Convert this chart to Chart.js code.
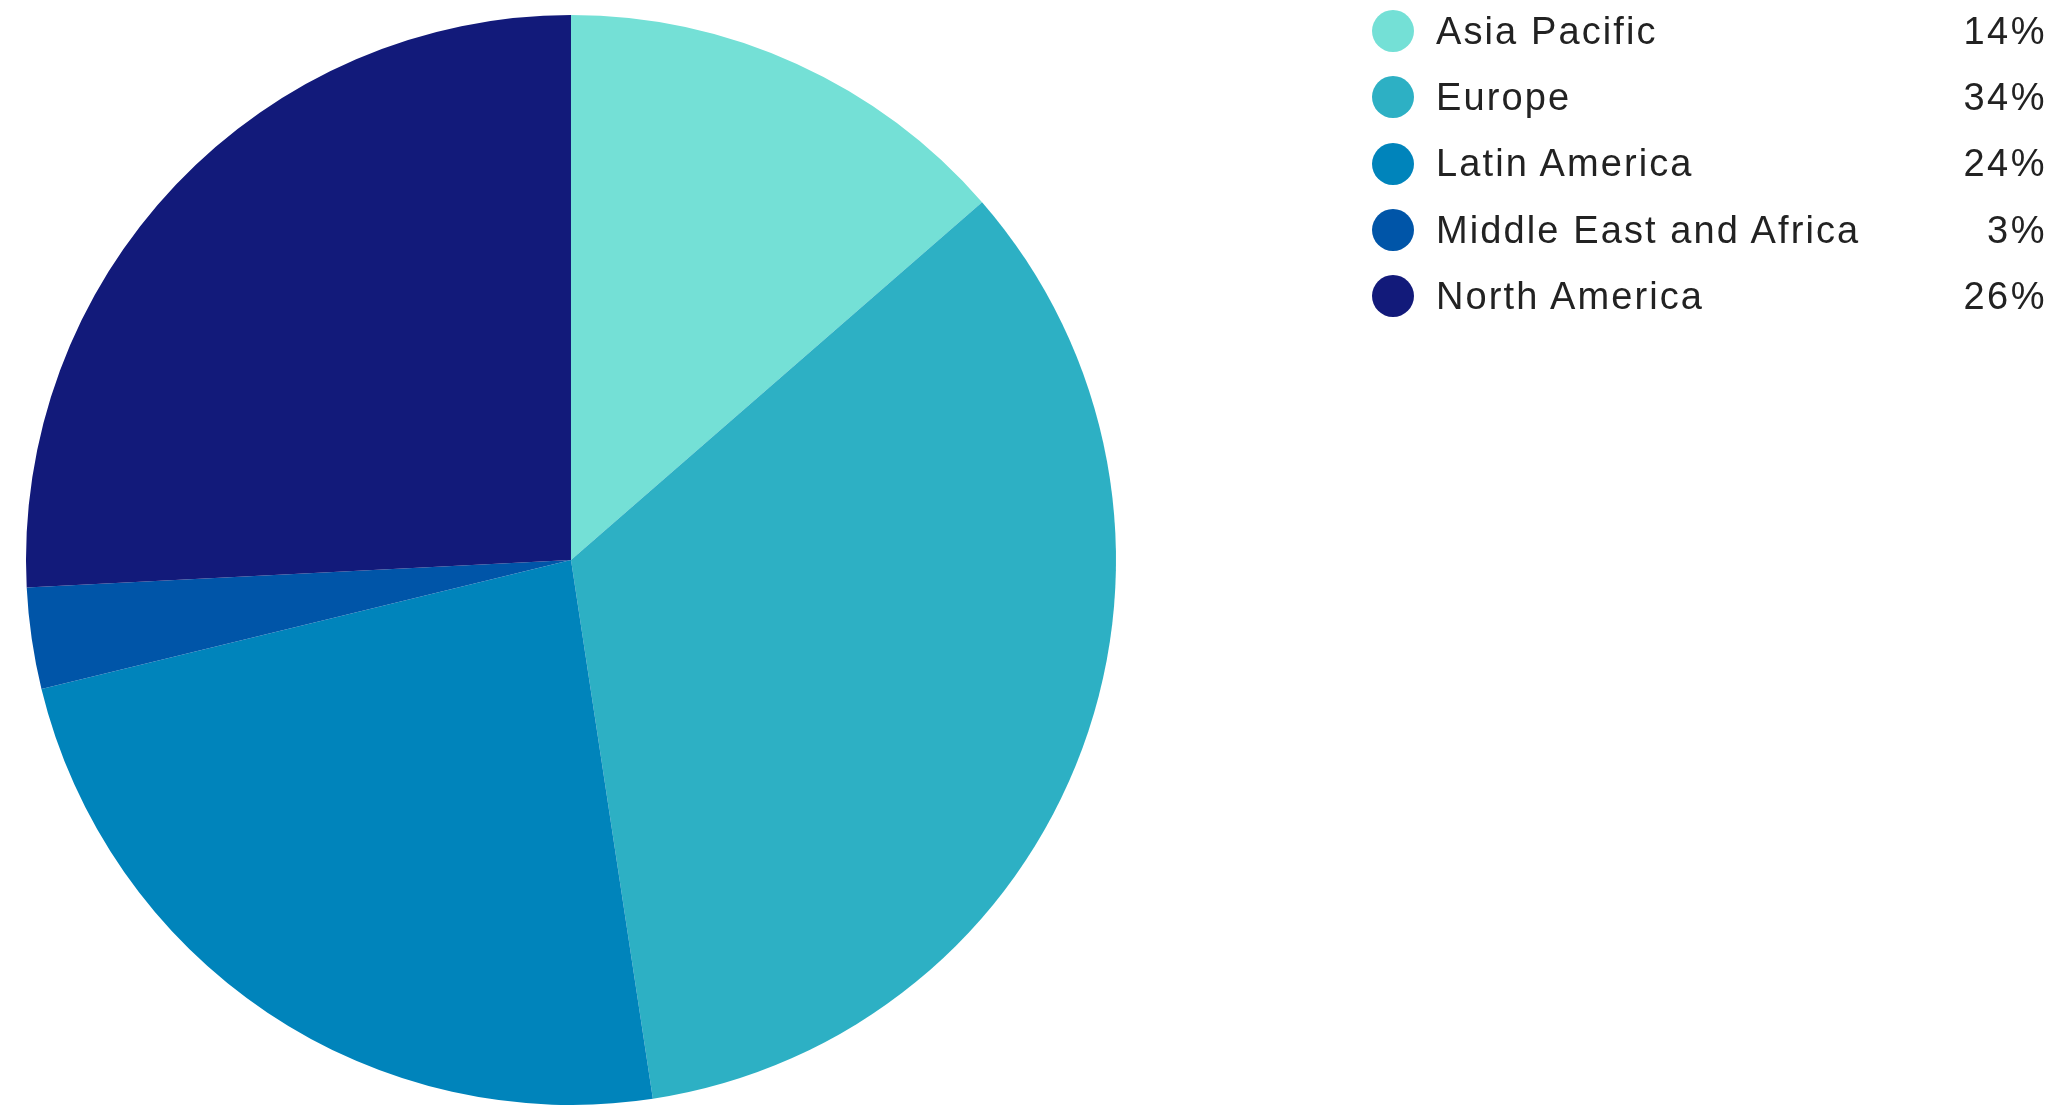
<!DOCTYPE html>
<html>
<head>
<meta charset="utf-8">
<script src="https://cdn.jsdelivr.net/npm/chart.js"></script>
<style>
  html, body { margin: 0; padding: 0; background: #fff; }
  #wrap { position: relative; width: 2064px; height: 1105px; }
  #legend {
    position: absolute; left: 1372px; top: -2px; width: 673px;
    font-family: "Liberation Sans", Arial, sans-serif; font-size: 38px;
    color: #222; letter-spacing: 2.1px;
  }
  .row { display: flex; align-items: center; height: 66.3px; }
  .dot { width: 42px; height: 42px; border-radius: 50%; margin-right: 22px; flex: none; }
  .name { flex: 1; }
  .pct { text-align: right; letter-spacing: 2.5px; margin-right: -2px; }
</style>
</head>
<body>
<div id="wrap">
  <canvas id="chart" width="2064" height="1105"></canvas>
  <div id="legend"></div>
</div>
<script>
const regions = ["Asia Pacific", "Europe", "Latin America", "Middle East and Africa", "North America"];
const shares = [13.6, 34.0, 23.6, 3.0, 25.8];
const colors = ["#74E0D6", "#2DB0C4", "#0084BB", "#0055A8", "#121A7A"];

const legend = document.getElementById("legend");
regions.forEach((name, i) => {
  const row = document.createElement("div");
  row.className = "row";
  row.innerHTML =
    `<span class="dot" style="background:${colors[i]}"></span>` +
    `<span class="name">${name}</span>` +
    `<span class="pct">${Math.round(shares[i])}%</span>`;
  legend.appendChild(row);
});

new Chart(document.getElementById("chart"), {
  type: "pie",
  data: {
    labels: regions,
    datasets: [{
      data: shares,
      backgroundColor: colors,
      borderWidth: 0,
    }],
  },
  options: {
    responsive: false,
    animation: false,
    layout: { padding: { left: 26, top: 15, right: 948, bottom: 0 } },
    plugins: {
      legend: { display: false },
      tooltip: { enabled: false },
    },
  },
});
</script>
</body>
</html>
